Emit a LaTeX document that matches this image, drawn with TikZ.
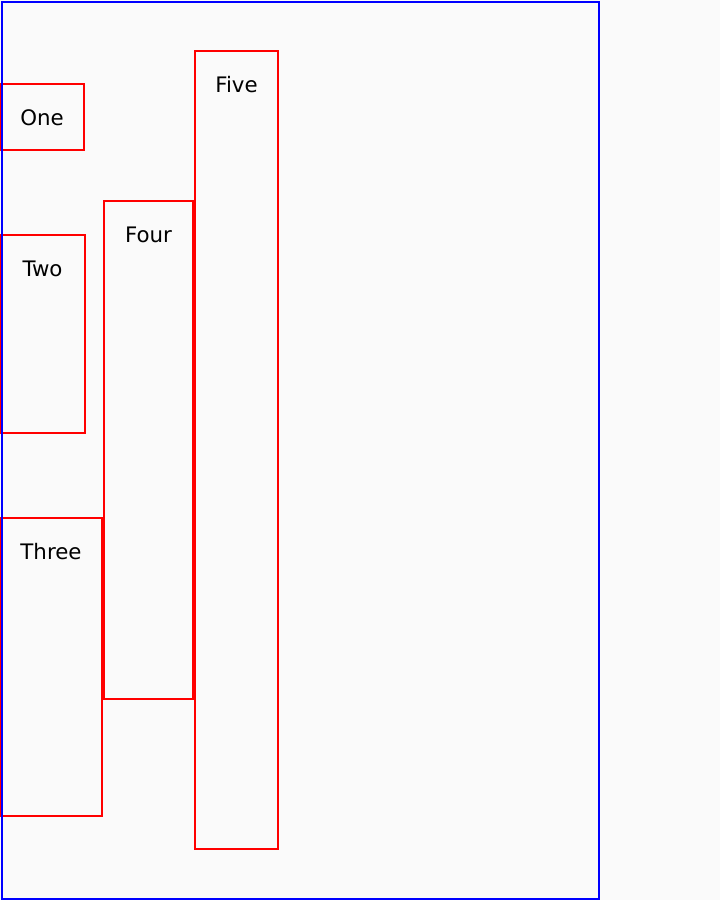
\documentclass[tikz,border=0pt]{standalone}
\usepackage{fontspec}
\setmainfont{DejaVu Sans}
\usetikzlibrary{positioning}
\newlength\pxu
\setlength\pxu{0.75pt}
\definecolor{paper}{HTML}{FAFAFA}

\begin{document}
\begin{tikzpicture}[
  x=\pxu, y=-\pxu,
  every node/.style={font=\fontsize{16}{19}\selectfont},
  frame/.style={draw=blue, line width=2\pxu},
  box/.style={draw=red, line width=1.5\pxu, anchor=north west,
              inner sep=0pt, outer sep=0pt},
  lbl/.style={anchor=base, inner sep=0pt, yshift=-41.5\pxu},
]
\fill[paper] (0,0) rectangle (720,900);
\useasboundingbox (0,0) rectangle (720,900);

% panels
\node[box, minimum width=84\pxu,  minimum height=66\pxu]  (one)   at (0,84)    {};
\node[box, minimum width=85\pxu,  minimum height=198\pxu] (two)   at (0,235)   {};
\node[box, minimum width=102\pxu, minimum height=298\pxu] (three) at (0,518)   {};
\node[box, minimum width=89\pxu,  minimum height=498\pxu] (four)  at (104,201) {};
\node[box, minimum width=83\pxu,  minimum height=798\pxu] (five)  at (195,51)  {};

\node[lbl] (one-t)   at (one.north)   {One};
\node[lbl] (two-t)   at (two.north)   {Two};
\node[lbl] (three-t) at (three.north) {Three};
\node[lbl] (four-t)  at (four.north)  {Four};
\node[lbl] (five-t)  at (five.north)  {Five};

% outer frame
\node[frame, anchor=north west, inner sep=0pt, minimum width=597\pxu,
      minimum height=897\pxu] (page) at (1,1) {};
\end{tikzpicture}
\end{document}
